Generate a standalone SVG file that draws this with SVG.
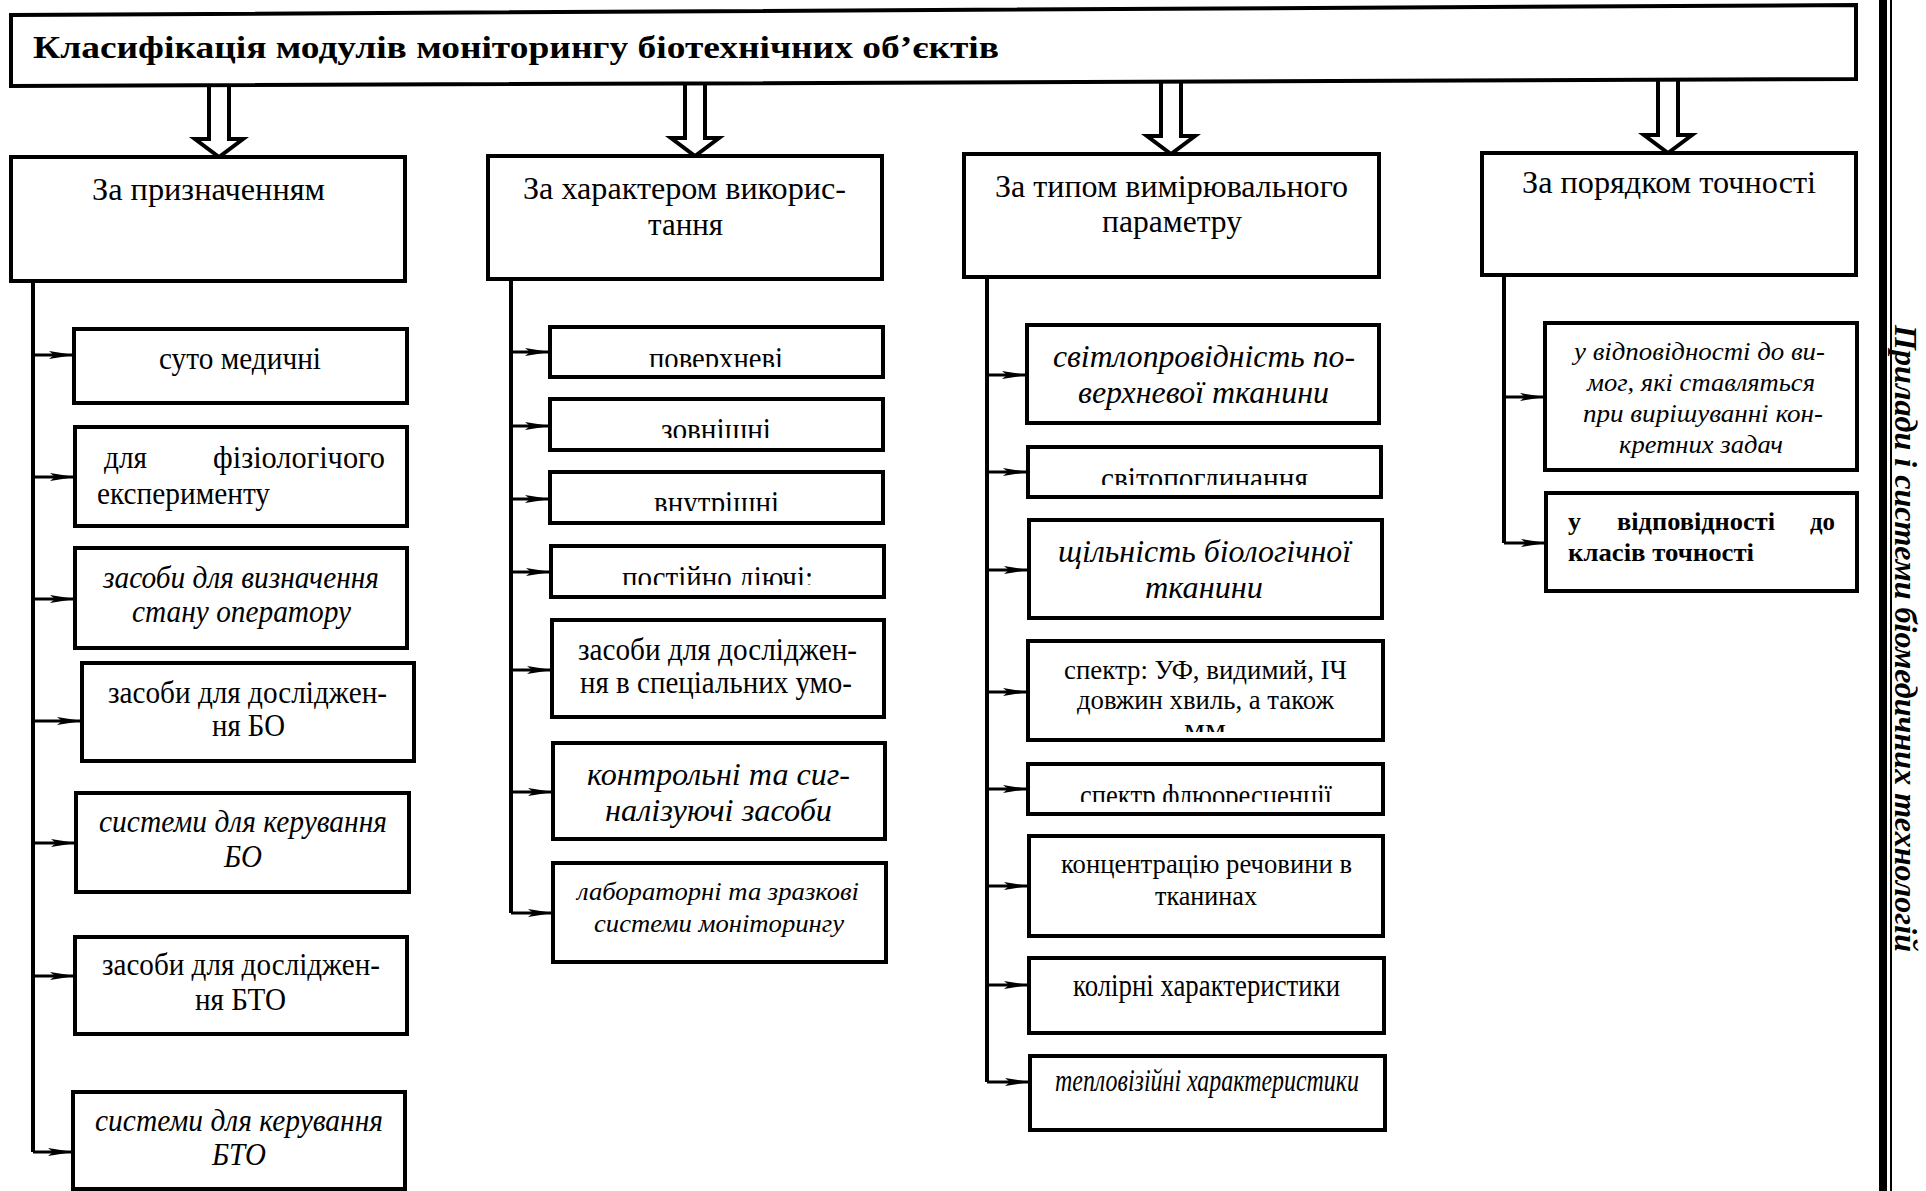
<svg xmlns="http://www.w3.org/2000/svg" width="1926" height="1191" viewBox="0 0 1926 1191">
<style>
.bx{fill:#fff;stroke:#000;stroke-width:4}
.t{font-family:"Liberation Serif","Times New Roman",serif;font-size:31px;fill:#000}
.i{font-style:italic}
.b{font-weight:bold}
.s{font-size:26px}
.m{font-size:28px}
.ln{stroke:#000;stroke-width:3;fill:none}
.sp{stroke:#000;stroke-width:4;fill:none}
.big{fill:#fff;stroke:#000;stroke-width:4;stroke-linejoin:miter}
</style>
<defs>
<marker id="ah" markerUnits="userSpaceOnUse" markerWidth="26" markerHeight="10" refX="25" refY="5" orient="auto">
<path d="M0,1 L25,5 L0,9 L5,5 Z" fill="#000"/>
</marker>
<clipPath id="c1"><rect x="550" y="327" width="333" height="40"/></clipPath>
<clipPath id="c2"><rect x="550" y="399" width="333" height="39"/></clipPath>
<clipPath id="c3"><rect x="550" y="472" width="333" height="39"/></clipPath>
<clipPath id="c4"><rect x="551" y="546" width="333" height="39"/></clipPath>
<clipPath id="c5"><rect x="1028" y="447" width="353" height="38"/></clipPath>
<clipPath id="c6"><rect x="1028" y="718" width="355" height="14"/></clipPath>
<clipPath id="c7"><rect x="1028" y="764" width="355" height="38"/></clipPath>
</defs>
<rect width="1926" height="1191" fill="#fff"/>

<g id="connectors">
<polyline class="big" points="209,85 209,139 195,139 219,157 243,139 229,139 229,85"/>
<polyline class="big" points="685,83 685,138 671,138 695,156 719,138 705,138 705,83"/>
<polyline class="big" points="1161,81 1161,136 1147,136 1171,154 1195,136 1181,136 1181,81"/>
<polyline class="big" points="1658,80 1658,135 1644,135 1668,153 1692,135 1678,135 1678,80"/>
<line class="sp" x1="33" y1="281" x2="33" y2="1152"/>
<line class="sp" x1="511" y1="279" x2="511" y2="913"/>
<line class="sp" x1="987" y1="277" x2="987" y2="1082"/>
<line class="sp" x1="1504" y1="275" x2="1504" y2="543"/>
<g class="ln" marker-end="url(#ah)">
<path d="M33,355H74"/><path d="M33,477H75"/><path d="M33,599H75"/><path d="M33,721H82"/><path d="M33,843H76"/><path d="M33,976H75"/><path d="M33,1152H73"/>
<path d="M511,352H550"/><path d="M511,426H550"/><path d="M511,499H550"/><path d="M511,572H551"/><path d="M511,670H552"/><path d="M511,792H553"/><path d="M511,913H553"/>
<path d="M987,375H1027"/><path d="M987,472H1028"/><path d="M987,570H1029"/><path d="M987,692H1028"/><path d="M987,789H1028"/><path d="M987,886H1029"/><path d="M987,985H1029"/><path d="M987,1082H1030"/>
<path d="M1504,397H1545"/><path d="M1504,543H1546"/>
</g>
</g>

<g id="title">
<polygon class="bx" points="11,15 1856,5 1856,79 11,86"/>
<text class="t b" x="33" y="58" font-size="38" textLength="966" lengthAdjust="spacingAndGlyphs">Класифікація модулів моніторингу біотехнічних об’єктів</text>
</g>

<g id="h1"><rect class="bx" x="11" y="157" width="394" height="124"/>
<text class="t" x="92" y="200" textLength="233" lengthAdjust="spacingAndGlyphs">За призначенням</text></g>
<g id="h2"><rect class="bx" x="488" y="156" width="394" height="123"/>
<text class="t" x="523" y="199" textLength="323" lengthAdjust="spacingAndGlyphs">За характером викорис-</text>
<text class="t" x="648" y="235" textLength="75" lengthAdjust="spacingAndGlyphs">тання</text></g>
<g id="h3"><rect class="bx" x="964" y="154" width="415" height="123"/>
<text class="t" x="995" y="197" textLength="353" lengthAdjust="spacingAndGlyphs">За типом вимірювального</text>
<text class="t" x="1102" y="232" textLength="140" lengthAdjust="spacingAndGlyphs">параметру</text></g>
<g id="h4"><rect class="bx" x="1482" y="153" width="374" height="122"/>
<text class="t" x="1522" y="193" textLength="294" lengthAdjust="spacingAndGlyphs">За порядком точності</text></g>

<g id="n1a"><rect class="bx" x="74" y="329" width="333" height="74"/>
<text class="t" x="159" y="369" textLength="162" lengthAdjust="spacingAndGlyphs">суто медичні</text></g>
<g id="n1b"><rect class="bx" x="75" y="427" width="332" height="99"/>
<text class="t" x="104" y="468" textLength="43" lengthAdjust="spacingAndGlyphs">для</text>
<text class="t" x="213" y="468" textLength="172" lengthAdjust="spacingAndGlyphs">фізіологічого</text>
<text class="t" x="97" y="504" textLength="173" lengthAdjust="spacingAndGlyphs">експерименту</text></g>
<g id="n1c"><rect class="bx" x="75" y="548" width="332" height="100"/>
<text class="t i" x="103" y="588" textLength="276" lengthAdjust="spacingAndGlyphs">засоби для визначення</text>
<text class="t i" x="132" y="622" textLength="219" lengthAdjust="spacingAndGlyphs">стану оператору</text></g>
<g id="n1d"><rect class="bx" x="82" y="663" width="332" height="98"/>
<text class="t" x="108" y="703" textLength="279" lengthAdjust="spacingAndGlyphs">засоби для дослiджен-</text>
<text class="t" x="212" y="736" textLength="73" lengthAdjust="spacingAndGlyphs">ня БО</text></g>
<g id="n1e"><rect class="bx" x="76" y="793" width="333" height="99"/>
<text class="t i" x="99" y="832" textLength="288" lengthAdjust="spacingAndGlyphs">системи для керування</text>
<text class="t i" x="224" y="867" textLength="38" lengthAdjust="spacingAndGlyphs">БО</text></g>
<g id="n1f"><rect class="bx" x="75" y="937" width="332" height="97"/>
<text class="t" x="102" y="975" textLength="278" lengthAdjust="spacingAndGlyphs">засоби для дослiджен-</text>
<text class="t" x="195" y="1010" textLength="91" lengthAdjust="spacingAndGlyphs">ня БТО</text></g>
<g id="n1g"><rect class="bx" x="73" y="1092" width="332" height="97"/>
<text class="t i" x="95" y="1131" textLength="288" lengthAdjust="spacingAndGlyphs">системи для керування</text>
<text class="t i" x="212" y="1165" textLength="54" lengthAdjust="spacingAndGlyphs">БТО</text></g>

<g id="n2a"><rect class="bx" x="550" y="327" width="333" height="50"/>
<text class="t" x="649" y="369" textLength="134" lengthAdjust="spacingAndGlyphs" clip-path="url(#c1)">поверхневі</text></g>
<g id="n2b"><rect class="bx" x="550" y="399" width="333" height="51"/>
<text class="t" x="661" y="440" textLength="110" lengthAdjust="spacingAndGlyphs" clip-path="url(#c2)">зовнішні</text></g>
<g id="n2c"><rect class="bx" x="550" y="472" width="333" height="51"/>
<text class="t" x="654" y="513" textLength="125" lengthAdjust="spacingAndGlyphs" clip-path="url(#c3)">внутрішні</text></g>
<g id="n2d"><rect class="bx" x="551" y="546" width="333" height="51"/>
<text class="t" x="622" y="588" textLength="191" lengthAdjust="spacingAndGlyphs" clip-path="url(#c4)">постійно діючі:</text></g>
<g id="n2e"><rect class="bx" x="552" y="620" width="332" height="97"/>
<text class="t" x="578" y="660" textLength="279" lengthAdjust="spacingAndGlyphs">засоби для дослiджен-</text>
<text class="t" x="580" y="693" textLength="272" lengthAdjust="spacingAndGlyphs">ня в спеціальних умо-</text></g>
<g id="n2f"><rect class="bx" x="553" y="743" width="332" height="96"/>
<text class="t i" x="587" y="785" textLength="263" lengthAdjust="spacingAndGlyphs">контрольні та сиг-</text>
<text class="t i" x="605" y="821" textLength="227" lengthAdjust="spacingAndGlyphs">налізуючі засоби</text></g>
<g id="n2g"><rect class="bx" x="553" y="863" width="333" height="99"/>
<text class="t i s" x="577" y="900" textLength="282" lengthAdjust="spacingAndGlyphs">лабораторні та зразкові</text>
<text class="t i s" x="594" y="932" textLength="250" lengthAdjust="spacingAndGlyphs">системи моніторингу</text></g>

<g id="n3a"><rect class="bx" x="1027" y="325" width="352" height="98"/>
<text class="t i" x="1053" y="367" textLength="302" lengthAdjust="spacingAndGlyphs">світлопровідність по-</text>
<text class="t i" x="1078" y="403" textLength="251" lengthAdjust="spacingAndGlyphs">верхневої тканини</text></g>
<g id="n3b"><rect class="bx" x="1028" y="447" width="353" height="50"/>
<text class="t" x="1101" y="489" textLength="207" lengthAdjust="spacingAndGlyphs" clip-path="url(#c5)">світопоглинання</text></g>
<g id="n3c"><rect class="bx" x="1029" y="520" width="353" height="98"/>
<text class="t i" x="1058" y="562" textLength="293" lengthAdjust="spacingAndGlyphs">щільність біологічної</text>
<text class="t i" x="1145" y="598" textLength="118" lengthAdjust="spacingAndGlyphs">тканини</text></g>
<g id="n3d"><rect class="bx" x="1028" y="641" width="355" height="99"/>
<text class="t m" x="1064" y="679" textLength="283" lengthAdjust="spacingAndGlyphs">спектр: УФ, видимий, ІЧ</text>
<text class="t m" x="1077" y="709" textLength="257" lengthAdjust="spacingAndGlyphs">довжин хвиль, а також</text>
<text class="t m" x="1184" y="738" textLength="42" lengthAdjust="spacingAndGlyphs" clip-path="url(#c6)">мм</text></g>
<g id="n3e"><rect class="bx" x="1028" y="764" width="355" height="50"/>
<text class="t" x="1080" y="806" textLength="252" lengthAdjust="spacingAndGlyphs" clip-path="url(#c7)">спектр флюоресценції</text></g>
<g id="n3f"><rect class="bx" x="1029" y="836" width="354" height="100"/>
<text class="t m" x="1061" y="873" textLength="291" lengthAdjust="spacingAndGlyphs">концентрацію речовини в</text>
<text class="t m" x="1155" y="905" textLength="102" lengthAdjust="spacingAndGlyphs">тканинах</text></g>
<g id="n3g"><rect class="bx" x="1029" y="958" width="355" height="75"/>
<text class="t" x="1073" y="996" textLength="267" lengthAdjust="spacingAndGlyphs">колірні характеристики</text></g>
<g id="n3h"><rect class="bx" x="1030" y="1056" width="355" height="74"/>
<text class="t i" x="1055" y="1091" font-size="25" textLength="304" lengthAdjust="spacingAndGlyphs">тепловізійні характеристики</text></g>

<g id="n4a"><rect class="bx" x="1545" y="323" width="312" height="147"/>
<text class="t i s" x="1574" y="360" textLength="251" lengthAdjust="spacingAndGlyphs">у відповідності до ви-</text>
<text class="t i s" x="1587" y="391" textLength="228" lengthAdjust="spacingAndGlyphs">мог, які ставляться</text>
<text class="t i s" x="1583" y="422" textLength="240" lengthAdjust="spacingAndGlyphs">при вирішуванні кон-</text>
<text class="t i s" x="1619" y="453" textLength="164" lengthAdjust="spacingAndGlyphs">кретних задач</text></g>
<g id="n4b"><rect class="bx" x="1546" y="493" width="311" height="98"/>
<text class="t b s" x="1568" y="530">у</text>
<text class="t b s" x="1617" y="530" textLength="158" lengthAdjust="spacingAndGlyphs">відповідності</text>
<text class="t b s" x="1810" y="530" textLength="25" lengthAdjust="spacingAndGlyphs">до</text>
<text class="t b s" x="1568" y="561" textLength="186" lengthAdjust="spacingAndGlyphs">класів точності</text></g>

<g id="sidebar">
<rect x="1879" y="0" width="8" height="1191" fill="#000"/>
<rect x="1890" y="0" width="2" height="1191" fill="#000"/>
<text class="t b i" font-size="32" transform="translate(1895,325) rotate(90)" x="0" y="0" textLength="627" lengthAdjust="spacingAndGlyphs">Прилади і системи біомедичних технологій</text>
</g>
</svg>
